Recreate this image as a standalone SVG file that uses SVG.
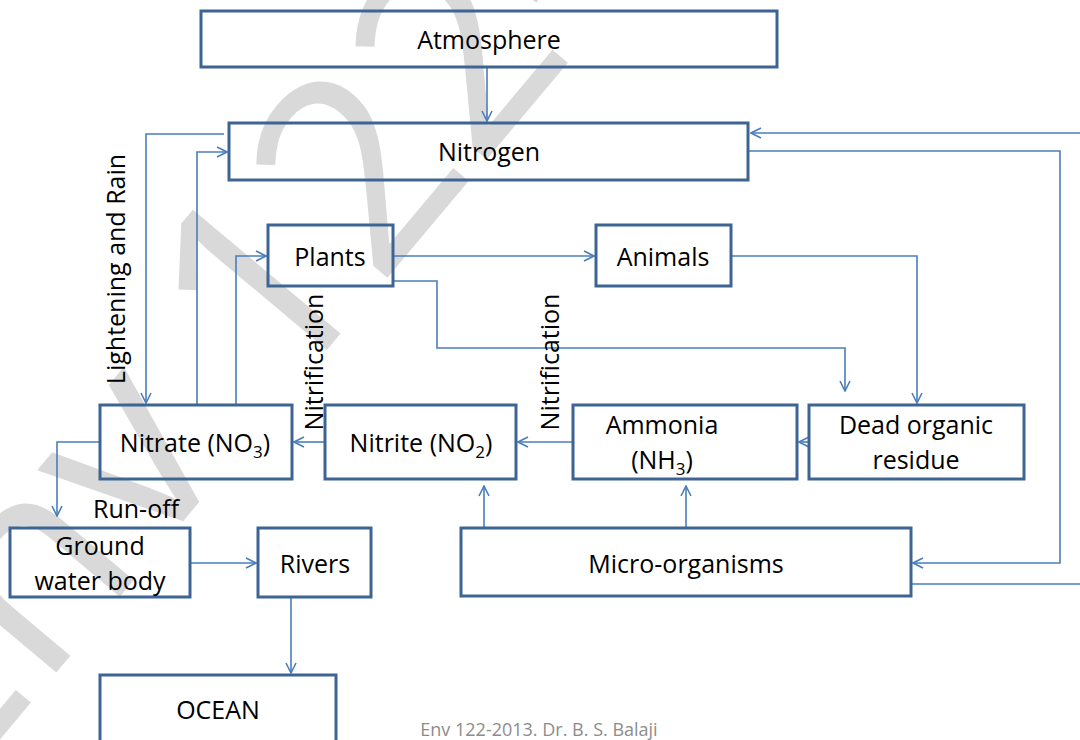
<svg xmlns="http://www.w3.org/2000/svg" width="1080" height="740" viewBox="0 0 1080 740">
<style>
.box{fill:none;stroke:#3d6494;stroke-width:3}
.t{font-family:"Open Sans","Liberation Sans",sans-serif;font-size:25px;fill:#000;text-anchor:middle}
.c{fill:none;stroke:#4a7ebb;stroke-width:1.6}
.wm{font-family:"Open Sans","Liberation Sans",sans-serif;font-size:270px;fill:#d9d9d9}
.ft{font-family:"Open Sans","Liberation Sans",sans-serif;font-size:18px;fill:#8c8c8c;text-anchor:middle}
</style>
<defs>
<marker id="a" viewBox="0 0 12 12" refX="11" refY="6" markerWidth="12" markerHeight="12" markerUnits="userSpaceOnUse" orient="auto">
<path d="M1 1 L11 6 L1 11" fill="none" stroke="#4a7ebb" stroke-width="1.6"/>
</marker>
</defs>
<rect width="1080" height="740" fill="#fff"/>
<text class="wm" transform="translate(-55 805) rotate(-50)">Env 122-2013</text>

<g id="connectors">
<path class="c" d="M487 67 V121" marker-end="url(#a)"/>
<path class="c" d="M224 134 H146 V403" marker-end="url(#a)"/>
<path class="c" d="M197 405 V152 H227" marker-end="url(#a)"/>
<path class="c" d="M236 405 V256 H266" marker-end="url(#a)"/>
<path class="c" d="M393 256 H594" marker-end="url(#a)"/>
<path class="c" d="M393 281 H437 V348 H845 V391" marker-end="url(#a)"/>
<path class="c" d="M731 256 H917 V403" marker-end="url(#a)"/>
<path class="c" d="M809 442 H799" marker-end="url(#a)"/>
<path class="c" d="M573 442 H518" marker-end="url(#a)"/>
<path class="c" d="M325 442 H294" marker-end="url(#a)"/>
<path class="c" d="M484 528 V486" marker-end="url(#a)"/>
<path class="c" d="M686 528 V486" marker-end="url(#a)"/>
<path class="c" d="M748 151 H1060 V563 H913" marker-end="url(#a)"/>
<path class="c" d="M911 584 H1090 V133 H751" marker-end="url(#a)"/>
<path class="c" d="M100 442 H57 V516" marker-end="url(#a)"/>
<path class="c" d="M190 563 H256" marker-end="url(#a)"/>
<path class="c" d="M291 597 V673" marker-end="url(#a)"/>
</g>

<g id="labels">
<text class="t" transform="rotate(-90 125 269)" x="125" y="269">Lightening and Rain</text>
<text class="t" transform="rotate(-90 323 362)" x="323" y="362">Nitrification</text>
<text class="t" transform="rotate(-90 559 362)" x="559" y="362">Nitrification</text>
<text class="t" x="136" y="518">Run-off</text>
</g>

<g id="atmosphere"><rect class="box" x="201" y="11" width="576" height="56"/><text class="t" x="489" y="49">Atmosphere</text></g>
<g id="nitrogen"><rect class="box" x="229" y="123" width="519" height="57"/><text class="t" x="489" y="161">Nitrogen</text></g>
<g id="plants"><rect class="box" x="268" y="225" width="125" height="61"/><text class="t" x="330" y="266">Plants</text></g>
<g id="animals"><rect class="box" x="596" y="225" width="135" height="61"/><text class="t" x="663" y="266">Animals</text></g>
<g id="dead"><rect class="box" x="809" y="405" width="215" height="74"/><text class="t" x="916" y="434">Dead organic</text><text class="t" x="916" y="469">residue</text></g>
<g id="ammonia"><rect class="box" x="573" y="405" width="224" height="74"/><text class="t" x="662" y="434">Ammonia</text><text class="t" x="662" y="469">(NH<tspan font-size="17" dy="6">3</tspan><tspan dy="-6">)</tspan></text></g>
<g id="nitrite"><rect class="box" x="325" y="405" width="191" height="74"/><text class="t" x="421" y="452">Nitrite (NO<tspan font-size="17" dy="6">2</tspan><tspan dy="-6">)</tspan></text></g>
<g id="nitrate"><rect class="box" x="100" y="405" width="192" height="74"/><text class="t" x="195" y="452">Nitrate (NO<tspan font-size="17" dy="6">3</tspan><tspan dy="-6">)</tspan></text></g>
<g id="groundwater"><rect class="box" x="10" y="528" width="180" height="69"/><text class="t" x="100" y="555">Ground</text><text class="t" x="100" y="590">water body</text></g>
<g id="rivers"><rect class="box" x="258" y="528" width="113" height="69"/><text class="t" x="315" y="573">Rivers</text></g>
<g id="micro"><rect class="box" x="461" y="528" width="450" height="68"/><text class="t" x="686" y="573">Micro-organisms</text></g>
<g id="ocean"><rect class="box" x="100" y="675" width="236" height="80"/><text class="t" x="218" y="719">OCEAN</text></g>
<text class="ft" x="539" y="736">Env 122-2013. Dr. B. S. Balaji</text>
</svg>
